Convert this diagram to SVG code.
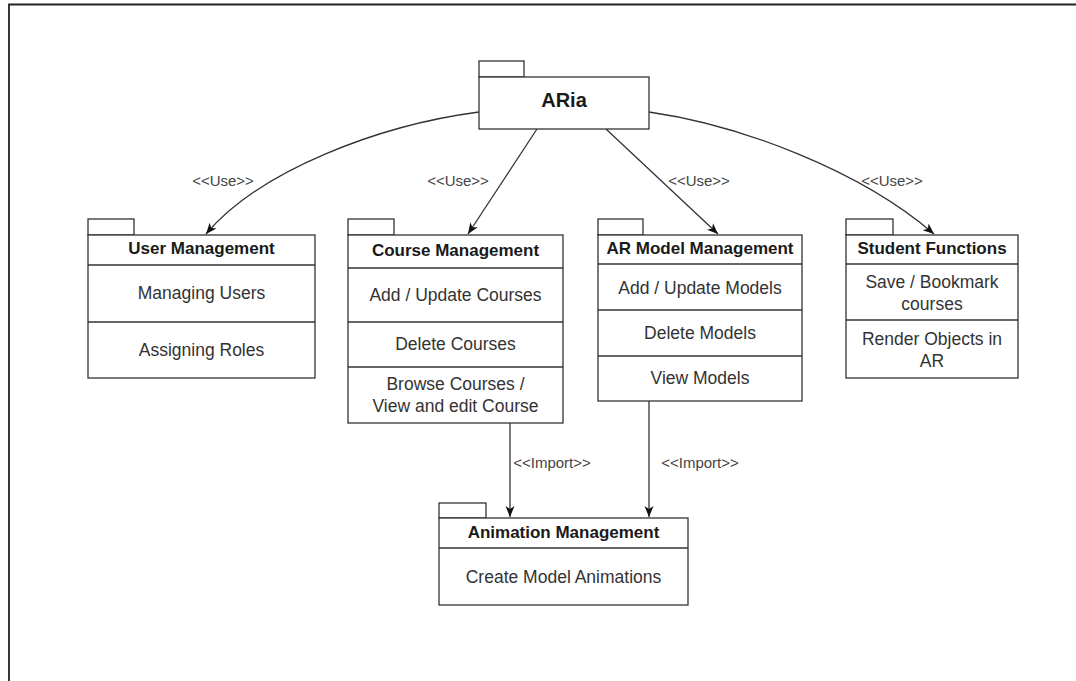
<svg xmlns="http://www.w3.org/2000/svg" width="1076" height="681" viewBox="0 0 1076 681">
<defs>
<style>
.box{fill:#fff;stroke:#333;stroke-width:1.3}
.sep{stroke:#333;stroke-width:1.3;fill:none}
.hd{font-family:"Liberation Sans",Arial,sans-serif;font-weight:bold;font-size:17px;fill:#1a1a1a;text-anchor:middle}
.bd{font-family:"Liberation Sans",Arial,sans-serif;font-size:17.5px;fill:#333;text-anchor:middle}
.lbl{font-family:"Liberation Sans",Arial,sans-serif;font-size:15px;fill:#444;text-anchor:middle}
.edge{fill:none;stroke:#333;stroke-width:1.3}
</style>
<marker id="arr" markerWidth="12" markerHeight="10" refX="11" refY="5" orient="auto" markerUnits="userSpaceOnUse">
<path d="M0,0.5 L11,5 L0,9.5 L3,5 Z" fill="#111"/>
</marker>
</defs>
<rect width="1076" height="681" fill="#fff"/>
<path d="M9,681 L9,4.5 L1076,4.5" fill="none" stroke="#222" stroke-width="1.8"/>

<g id="connectors">
<path class="edge" d="M479,112 C380,125 260,170 206,234" marker-end="url(#arr)"/>
<path class="edge" d="M537,129 L468,234" marker-end="url(#arr)"/>
<path class="edge" d="M606,129 L718,234" marker-end="url(#arr)"/>
<path class="edge" d="M649,112 C740,125 860,170 934,234" marker-end="url(#arr)"/>
<path class="edge" d="M510,423 L510,517" marker-end="url(#arr)"/>
<path class="edge" d="M649,401 L649,517" marker-end="url(#arr)"/>
<text class="lbl" x="223" y="186">&lt;&lt;Use&gt;&gt;</text>
<text class="lbl" x="458" y="186">&lt;&lt;Use&gt;&gt;</text>
<text class="lbl" x="699" y="186">&lt;&lt;Use&gt;&gt;</text>
<text class="lbl" x="892" y="186">&lt;&lt;Use&gt;&gt;</text>
<text class="lbl" x="552" y="468">&lt;&lt;Import&gt;&gt;</text>
<text class="lbl" x="700" y="468">&lt;&lt;Import&gt;&gt;</text>
</g>

<g id="aria">
<rect class="box" x="479" y="61" width="45" height="16"/>
<rect class="box" x="479" y="77" width="170" height="52"/>
<text x="564" y="107" font-family="'Liberation Sans',Arial,sans-serif" font-weight="bold" font-size="20" fill="#1a1a1a" text-anchor="middle">ARia</text>
</g>

<g id="user-management">
<rect class="box" x="88" y="219" width="46" height="16"/>
<rect class="box" x="88" y="235" width="227" height="143"/>
<line class="sep" x1="88" y1="265" x2="315" y2="265"/>
<line class="sep" x1="88" y1="322" x2="315" y2="322"/>
<text class="hd" x="201.5" y="254">User Management</text>
<text class="bd" x="201.5" y="299">Managing Users</text>
<text class="bd" x="201.5" y="356">Assigning Roles</text>
</g>

<g id="course-management">
<rect class="box" x="348" y="219" width="46" height="16"/>
<rect class="box" x="348" y="235" width="215" height="188"/>
<line class="sep" x1="348" y1="268" x2="563" y2="268"/>
<line class="sep" x1="348" y1="322" x2="563" y2="322"/>
<line class="sep" x1="348" y1="367" x2="563" y2="367"/>
<text class="hd" x="455.5" y="256">Course Management</text>
<text class="bd" x="455.5" y="301">Add / Update Courses</text>
<text class="bd" x="455.5" y="350">Delete Courses</text>
<text class="bd" x="455.5" y="390">Browse Courses /</text>
<text class="bd" x="455.5" y="412">View and edit Course</text>
</g>

<g id="ar-model-management">
<rect class="box" x="598" y="219" width="45" height="16"/>
<rect class="box" x="598" y="235" width="204" height="166"/>
<line class="sep" x1="598" y1="264" x2="802" y2="264"/>
<line class="sep" x1="598" y1="310" x2="802" y2="310"/>
<line class="sep" x1="598" y1="356" x2="802" y2="356"/>
<text class="hd" x="700" y="254">AR Model Management</text>
<text class="bd" x="700" y="294">Add / Update Models</text>
<text class="bd" x="700" y="339">Delete Models</text>
<text class="bd" x="700" y="384">View Models</text>
</g>

<g id="student-functions">
<rect class="box" x="846" y="219" width="47" height="16"/>
<rect class="box" x="846" y="235" width="172" height="143"/>
<line class="sep" x1="846" y1="264" x2="1018" y2="264"/>
<line class="sep" x1="846" y1="320" x2="1018" y2="320"/>
<text class="hd" x="932" y="254">Student Functions</text>
<text class="bd" x="932" y="288">Save / Bookmark</text>
<text class="bd" x="932" y="310">courses</text>
<text class="bd" x="932" y="345">Render Objects in</text>
<text class="bd" x="932" y="367">AR</text>
</g>

<g id="animation-management">
<rect class="box" x="439" y="503" width="47" height="15"/>
<rect class="box" x="439" y="518" width="249" height="87"/>
<line class="sep" x1="439" y1="548" x2="688" y2="548"/>
<text class="hd" x="563.5" y="538">Animation Management</text>
<text class="bd" x="563.5" y="583">Create Model Animations</text>
</g>
</svg>
